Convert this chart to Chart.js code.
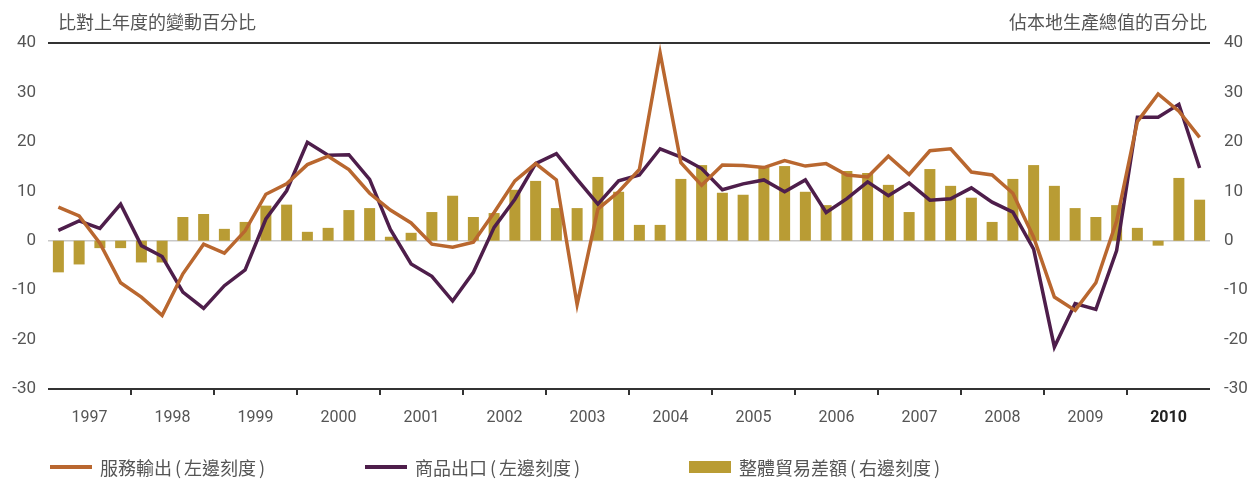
<!DOCTYPE html>
<html>
<head>
<meta charset="utf-8">
<script src="https://cdn.jsdelivr.net/npm/chart.js@4.4.1/dist/chart.umd.min.js"></script>
<style>
    html, body { margin: 0; padding: 0; background: #fff; }
    #wrap { position: relative; width: 1252px; height: 479px; overflow: hidden; }
    #chart { position: absolute; left: 0; top: 0; }
    .title { position: absolute; top: 10px; font: 18px "Noto Sans CJK TC", sans-serif; color: #555; white-space: nowrap; line-height: 22px; }
    .legend-item { position: absolute; top: 456px; height: 22px; display: flex; align-items: center; font: 18px "Noto Sans CJK TC", sans-serif; color: #555; white-space: nowrap; }
    .swatch-line { width: 42px; height: 4px; margin-right: 8px; }
    .swatch-box { width: 42px; height: 12px; margin-right: 8px; }
    .paren { margin: 0 3px; }
</style>
</head>
<body>
<div id="wrap">
    <canvas id="chart" width="1252" height="479"></canvas>
    <div class="title" style="left:58px;">比對上年度的變動百分比</div>
    <div class="title" style="right:45px;">佔本地生產總值的百分比</div>
    <div id="legend"></div>
</div>
<script>
// Quarterly data, 1997 Q1 - 2010 Q4
const years = ['1997', '1998', '1999', '2000', '2001', '2002', '2003', '2004', '2005', '2006', '2007', '2008', '2009', '2010'];
const quarters = years.flatMap(y => ['Q1', 'Q2', 'Q3', 'Q4'].map(q => y + ' ' + q));

// 服務輸出 (left scale)
const servicesExports = [
    6.8, 5.0, -0.5, -8.5, -11.4, -15.1, -6.7, -0.7,
    -2.5, 2.0, 9.4, 11.5, 15.4, 17.1, 14.4, 9.6,
    6.2, 3.6, -0.7, -1.3, -0.3, 5.7, 12.1, 15.6,
    12.3, -12.9, 6.4, 9.9, 14.4, 38.0, 15.8, 11.2,
    15.3, 15.2, 14.8, 16.2, 15.1, 15.6, 13.3, 12.9,
    17.1, 13.4, 18.2, 18.6, 13.9, 13.3, 9.6, 0.7,
    -11.4, -14.1, -8.5, 4.0, 24.1, 29.7, 26.2, 20.9
];

// 商品出口 (left scale)
const goodsExports = [
    2.1, 4.0, 2.5, 7.4, -1.0, -3.2, -10.4, -13.7,
    -9.1, -5.9, 4.4, 10.1, 19.9, 17.3, 17.4, 12.4,
    2.3, -4.7, -7.2, -12.2, -6.4, 2.7, 8.4, 15.6,
    17.6, 12.4, 7.4, 12.1, 13.3, 18.6, 16.9, 14.6,
    10.3, 11.5, 12.3, 9.9, 12.3, 5.7, 8.5, 11.9,
    9.1, 11.7, 8.2, 8.5, 10.7, 7.8, 5.8, -1.7,
    -21.5, -12.7, -13.9, -2.0, 25.0, 25.0, 27.6, 14.7
];

// 整體貿易差額 (right scale)
const tradeBalance = [
    -6.4, -4.8, -1.5, -1.5, -4.4, -4.4, 4.8, 5.4,
    2.4, 3.8, 7.1, 7.3, 1.8, 2.6, 6.2, 6.6,
    0.8, 1.6, 5.8, 9.1, 4.8, 5.6, 10.3, 12.1,
    6.6, 6.6, 12.9, 9.9, 3.2, 3.2, 12.5, 15.3,
    9.7, 9.3, 14.9, 15.1, 9.9, 7.2, 14.1, 13.7,
    11.3, 5.8, 14.5, 11.1, 8.7, 3.8, 12.5, 15.3,
    11.1, 6.6, 4.8, 7.2, 2.6, -1.0, 12.7, 8.3
];

const axisMin = -30;
const axisMax = 40;

const COLORS = {
    services: '#B9672F',
    goods: '#4E1E4B',
    balance: '#B99C34',
    text: '#555555',
    axis: '#333333',
    zero: '#C8C8C8'
};

const legendItems = [
    { label: '服務輸出(左邊刻度)', color: COLORS.services, type: 'line', left: 50 },
    { label: '商品出口(左邊刻度)', color: COLORS.goods, type: 'line', left: 365 },
    { label: '整體貿易差額(右邊刻度)', color: COLORS.balance, type: 'box', left: 689 }
];

const numFont = { family: 'Roboto, "DejaVu Sans", sans-serif', size: 17 };

function renderLegend() {
    const legend = document.getElementById('legend');
    legend.innerHTML = legendItems.map(item => {
        // give the half-width brackets a little air, like the original
        const text = item.label.replace('(', '<span class="paren">(</span>').replace(')', '<span class="paren">)</span>');
        return `
        <div class="legend-item" style="left:${item.left}px;">
            <span class="${item.type === 'line' ? 'swatch-line' : 'swatch-box'}" style="background:${item.color}"></span>
            <span>${text}</span>
        </div>`;
    }).join('');
}

function renderChart() {
    const ctx = document.getElementById('chart').getContext('2d');

    new Chart(ctx, {
        type: 'bar',
        data: {
            labels: quarters,
            datasets: [
                {
                    type: 'line',
                    label: '服務輸出(左邊刻度)',
                    data: servicesExports,
                    borderColor: COLORS.services,
                    borderWidth: 3.5,
                    pointRadius: 0,
                    tension: 0,
                    yAxisID: 'y',
                    order: 0
                },
                {
                    type: 'line',
                    label: '商品出口(左邊刻度)',
                    data: goodsExports,
                    borderColor: COLORS.goods,
                    borderWidth: 3.5,
                    pointRadius: 0,
                    tension: 0,
                    yAxisID: 'y',
                    order: 0
                },
                {
                    label: '整體貿易差額(右邊刻度)',
                    data: tradeBalance,
                    backgroundColor: COLORS.balance,
                    categoryPercentage: 1,
                    barPercentage: 0.53,
                    yAxisID: 'y1',
                    order: 1
                }
            ]
        },
        options: {
            responsive: false,
            devicePixelRatio: 1,
            animation: false,
            layout: { padding: { top: 43, bottom: 0, left: 0, right: 0 } },
            plugins: {
                legend: { display: false },
                tooltip: { enabled: false }
            },
            scales: {
                x: {
                    display: false,
                    offset: true
                },
                years: {
                    type: 'category',
                    position: 'bottom',
                    labels: years,
                    offset: true,
                    border: { display: false },
                    grid: {
                        offset: true,
                        drawOnChartArea: false,
                        drawTicks: true,
                        tickLength: 6,
                        lineWidth: 2,
                        color: c => (c.index > 0 ? COLORS.axis : 'rgba(0,0,0,0)')
                    },
                    ticks: {
                        padding: 13,
                        maxRotation: 0,
                        autoSkip: false,
                        font: c => ({ family: numFont.family, size: 16, weight: c.index === 13 ? 'bold' : 'normal' }),
                        color: c => (c.index === 13 ? '#222' : COLORS.text)
                    },
                    afterFit: scale => { scale.height = 90; }
                },
                y: {
                    position: 'left',
                    min: axisMin,
                    max: axisMax,
                    border: { display: false },
                    grid: {
                        drawTicks: false,
                        color: c => {
                            const v = c.tick && c.tick.value;
                            if (v === 40 || v === -30) return COLORS.axis;
                            if (v === 0) return COLORS.zero;
                            return 'rgba(0,0,0,0)';
                        },
                        lineWidth: c => (c.tick && c.tick.value === 0 ? 1.5 : 2)
                    },
                    ticks: {
                        stepSize: 10,
                        padding: 12,
                        font: numFont,
                        color: COLORS.text
                    },
                    afterFit: scale => { scale.width = 48; }
                },
                y1: {
                    position: 'right',
                    min: axisMin,
                    max: axisMax,
                    border: { display: false },
                    grid: { display: false, drawTicks: false },
                    ticks: {
                        stepSize: 10,
                        padding: 14,
                        font: numFont,
                        color: COLORS.text
                    },
                    afterFit: scale => { scale.width = 42; }
                }
            }
        }
    });
}

document.addEventListener('DOMContentLoaded', () => {
    renderLegend();
    renderChart();
});
</script>
</body>
</html>
